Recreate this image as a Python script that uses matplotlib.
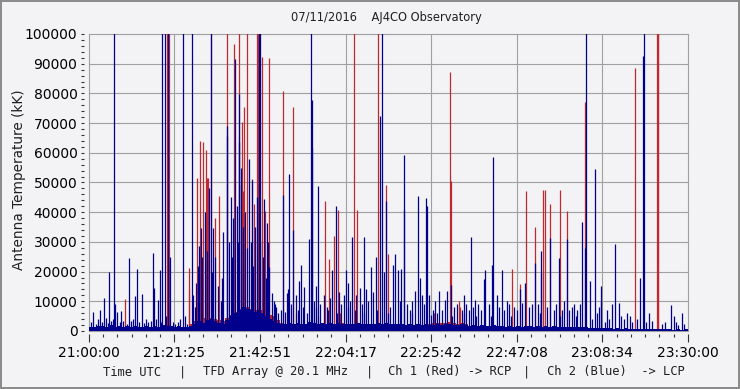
import numpy as np
import matplotlib
matplotlib.use('Agg')
import matplotlib.pyplot as plt
from matplotlib.ticker import MultipleLocator, FixedLocator

# ---------------- data (minutes after 21:00:00 UTC, antenna temperature) ----------------
tick_labels = ["21:00:00", "21:21:25", "21:42:51", "22:04:17",
               "22:25:42", "22:47:08", "23:08:34", "23:30:00"]

FULL = 130000  # spikes that run off the top of the chart

red_t = [9.2, 19.5, 19.8, 20.1, 25.0, 25.2, 27.2, 27.9, 28.6, 29.4, 29.6, 29.9,
         30.5, 31.7, 32.7, 34.7, 36.4, 37.5, 38.2, 38.3, 38.5, 38.9, 39.7, 40.9,
         41.4, 42.0, 42.3, 43.4, 44.1, 45.2, 48.7, 51.2, 52.0, 57.5, 59.2, 60.2,
         61.4, 62.4, 63.0, 66.4, 67.2, 72.5, 74.4, 75.0, 86.5, 90.4, 90.6, 92.8,
         93.0, 105.9, 107.9, 109.5, 111.7, 113.7, 114.2, 115.4, 117.9, 119.6,
         124.2, 136.7, 142.2, 142.4, 142.6]
red_v = [10700, FULL, FULL, FULL, 14000, 21200, 51600, 63900, 63600, 60800, 51600, 51600,
         FULL, 38000, 45400, FULL, 96600, FULL, 49000, 70500, 47000, 75500, FULL, 51300,
         42600, FULL, FULL, 92300, 40300, 91800, 80800, 75400, 6000, 5000, 43700, 24400,
         32100, 40900, 6000, FULL, 40900, FULL, 49100, 26000, 6000, 87200, 50400, 10000,
         8200, 20800, 15700, 47300, 34900, 47600, 47600, 42600, 47600, 40300,
         77100, 88400, FULL, FULL, FULL]

blue_t = [6.4, 18.4, 19.1, 19.8, 23.5, 25.9, 30.5, 42.5, 42.8, 55.7, 73.4, 124.4, 138.9,
          1.2, 2.9, 3.9, 5.2, 6.7, 7.2, 8.2, 10.2, 11.7, 12.0, 13.3, 16.2, 16.3, 17.4,
          17.8, 20.4, 24.1, 26.8, 27.7, 28.1, 29.1, 30.2, 31.2, 33.7, 34.5, 34.6, 36.6,
          37.7, 37.6, 40.1, 40.9, 44.0, 44.6, 45.2, 45.8, 48.7, 49.7, 50.1, 51.2, 50.0,
          52.7, 53.1, 54.0, 55.2, 55.8, 55.9, 57.4, 61.0, 61.8, 64.3, 66.0, 67.9, 68.9,
          70.6, 71.8, 72.9, 74.3, 76.2, 76.7, 77.4, 78.2, 78.9, 79.0, 81.7, 82.4, 82.9,
          84.5, 84.7, 85.2, 87.7, 89.7, 90.7, 93.9, 95.7, 96.8, 98.9, 99.3, 101.0, 101.2,
          102.2, 103.4, 104.7, 107.9, 109.1, 111.7, 113.1, 113.3, 115.4, 117.7, 119.6,
          123.5, 124.2, 125.4, 126.6, 128.1, 128.3, 130.9, 131.7, 132.7, 137.9, 138.8,
          140.2, 141.0, 145.7, 146.4, 148.6,
          # denser texture spikes
          26.0, 26.5, 27.4, 28.4, 29.7, 30.8, 31.5, 32.3, 33.0, 33.4, 35.2, 35.6, 35.9,
          36.2, 37.0, 37.3, 38.0, 38.6, 39.0, 39.5, 40.5, 41.2, 41.7, 42.1, 43.0, 43.6,
          44.3, 45.0, 46.3, 47.0, 46.7, 47.5, 48.2, 49.2,
          50.6, 51.8, 53.6, 56.3, 57.0, 58.0, 58.8, 59.6, 60.5, 62.7, 63.2, 63.8, 65.0,
          65.5, 67.0, 68.3, 69.5, 70.0, 71.2, 73.9, 52.3, 54.6, 56.8, 60.0, 62.2, 64.8,
          66.6, 69.0, 72.2, 74.8,
          75.5, 77.9, 79.6, 80.3, 81.0, 83.3, 83.8, 86.2, 86.8, 88.4, 89.2, 91.5, 92.3,
          93.4, 94.5, 95.1, 96.2, 97.5, 98.3, 80.8, 85.7, 87.2, 91.0, 94.0, 97.0,
          100.2, 102.8, 103.9, 105.2, 106.4, 107.3, 108.4, 110.3, 110.9, 112.4, 114.8,
          116.4, 116.9, 118.5, 119.0, 120.3, 120.9, 121.5, 122.3, 123.0, 100.7, 105.7,
          112.9, 118.0, 121.9,
          126.0, 127.3, 127.6, 129.2, 129.8, 130.3, 133.3, 134.0, 134.8, 135.5, 136.0,
          137.3, 139.5, 143.5, 144.2, 147.0, 147.5, 149.0,
          0.6, 1.8, 2.3, 3.3, 4.4, 4.8, 5.7, 6.1, 7.8, 8.7, 9.6, 10.6, 11.2, 12.5, 13.8,
          14.4, 14.9, 15.5, 16.8, 18.0, 19.4, 21.0, 21.6, 22.3, 22.9, 24.6]
blue_v = [FULL, FULL, FULL, FULL, FULL, FULL, FULL, FULL, FULL, FULL, FULL, FULL, FULL,
          6500, 7100, 11250, 20000, 9000, 6500, 6800, 24700, 11800, 20900, 12300, 26400, 14500, 10300,
          20400, 24900, 5000, 16100, 28500, 34700, 40000, 48000, 34700, 33200, 65600, 69000, 91500,
          79700, 63500, 58000, 51000, 44300, 36400, 21700, 12700, 45900, 12700, 52800, 34100, 14000,
          16700, 22300, 14900, 31000, 77800, 61600, 48700, 20600, 42000, 20600, 31600, 14400, 31600,
          21500, 25000, 72400, 43700, 22300, 26000, 20400, 20800, 59100, 40900, 13300, 45600, 17800,
          44800, 42000, 12000, 13500, 13500, 15400, 12100, 31600, 10600, 17500, 20400, 22300, 58600,
          12000, 20600, 10000, 14000, 16000, 23000, 26800, 19600, 31300, 24600, 31000,
          36600, 28000, 17000, 54400, 10000, 15000, 9000, 29400, 9500, 17800, 92700,
          6000, 3500, 8800, 5000, 6000,
          12000, 8000, 22000, 25000, 27000, 20000, 25000, 15000, 10000, 18000, 30000, 45000, 25000,
          38000, 42000, 30000, 55000, 35000, 40000, 28000, 30000, 22000, 35000, 45000, 30000, 25000,
          18000, 30000, 10000, 8000, 9000, 6000, 7000, 6500,
          9000, 12000, 8000, 10000, 15000, 9000, 12000, 8000, 11000, 13000, 9000, 12000, 16000,
          10000, 12000, 9000, 14000, 10000, 13000, 20000, 7000, 6000, 8000, 7000, 6000, 8000,
          7000, 6000, 7000, 6000,
          8000, 10000, 9000, 7000, 10000, 12000, 9000, 7000, 10000, 7000, 10500, 8000, 9000,
          7000, 9000, 7000, 8000, 9000, 7000, 6000, 5500, 6000, 5000, 6000, 5000,
          9000, 8000, 7000, 9000, 8000, 7000, 9500, 8000, 9000, 9000, 8000,
          7000, 9000, 7000, 10000, 7000, 8000, 9000, 7000, 9000, 5000, 5000,
          6000, 5000, 5000,
          4000, 6000, 8000, 3000, 7000, 4000, 5000, 4000, 6000, 5000, 3000,
          4000, 3000, 2500, 3000, 3000, 2000, 2500,
          3000, 2500, 4000, 3000, 4500, 2800, 3500, 4000, 3000, 3200, 2500, 3500, 4000, 3000, 2800,
          4200, 3000, 3500, 4000, 3000, 5000, 3000, 2500, 3000, 4000, 2500]

# noise floor, one value per minute
blue_floor = [1500, 1300, 1800, 1600, 1300, 1900, 1500, 1700, 1400, 1600,
              1500, 1700, 1300, 1500, 1800, 1500, 1700, 1400, 1900, 1600,
              1700, 1500, 1600, 1400, 1300, 1800, 2500, 3200, 2800, 3600,
              4000, 3200, 2800, 2500, 3600, 5000, 6000, 7000, 8000, 7500,
              7000, 6500, 7000, 6000, 5000, 4200, 3500, 2800, 2500, 2500,
              2800, 2500, 2700, 2300, 2500, 3000, 2800, 2500, 2700, 2300,
              2600, 2400, 2700, 2400, 2200, 2500, 2300, 2700, 2400, 2200,
              2400, 2300, 2600, 2500, 2800, 2500, 2300, 2200, 2400, 2000,
              2200, 2000, 2300, 2000, 2200, 1900, 2100, 2200, 2000, 2200,
              2300, 2000, 1900, 2200, 2000, 1800, 2000, 1700, 1900, 1800,
              1700, 1900, 1600, 1800, 1500, 1700, 1500, 1700, 1500, 1700,
              1600, 1500, 1700, 1500, 1700, 1500, 1600, 1400, 1500, 1300,
              1400, 1200, 1400, 1300, 1200, 1100, 1000, 1000, 900, 1000,
              900, 800, 1000, 800, 900, 800, 800, 700, 800, 800,
              700, 800, 600, 700, 600, 700, 500, 600, 500, 600]
red_floor = [900, 800, 1100, 1000, 800, 1100, 900, 1000, 800, 1000,
             900, 1000, 800, 900, 1100, 900, 1000, 800, 1100, 1000,
             1000, 900, 1000, 800, 800, 2200, 3500, 4200, 4500, 5000,
             4500, 4200, 3800, 3500, 4500, 5500, 6500, 7500, 8500, 8000,
             7500, 7000, 7500, 7000, 6500, 5500, 5000, 3800, 2600, 2200,
             2200, 2000, 2200, 1900, 2200, 2600, 2600, 2200, 2400, 2100,
             2400, 2200, 3300, 2600, 2000, 2400, 2200, 2600, 2200, 1900,
             2200, 2000, 2200, 2200, 2600, 2200, 2000, 1900, 2200, 1800,
             2000, 1800, 2000, 1800, 2000, 2200, 2700, 2800, 2700, 2800,
             3000, 2700, 2500, 2700, 2200, 1600, 1800, 1500, 1700, 1600,
             1500, 1700, 1400, 1600, 1300, 1500, 1400, 1500, 1300, 1500,
             1400, 1300, 1500, 1300, 1500, 1300, 1400, 1200, 1300, 1100,
             1200, 1000, 1100, 1000, 1000, 900, 700, 800, 600, 700,
             600, 500, 700, 500, 600, 500, 500, 400, 500, 500,
             400, 500, 400, 400, 400, 400, 300, 400, 300, 400]

# ---------------- figure ----------------
W, H = 740, 389
BG = '#F3F3F5'
RED = '#C0282F'
BLUE = '#00008C'
GRID = '#A0A0A0'

fig = plt.figure(figsize=(W / 100, H / 100), dpi=100, facecolor=BG,
                 edgecolor='#8C8C8C', linewidth=1.5)
ax = fig.add_axes([88.7 / W, 1 - 331 / H, (688 - 88.7) / W, (331 - 34) / H])
ax.set_facecolor(BG)

edges = np.arange(len(blue_floor) + 1)
ax.stairs(red_floor, edges, fill=True, color=RED, lw=0, zorder=2)
ax.vlines(red_t, 0, red_v, colors=RED, lw=0.9, zorder=3)
ax.stairs(blue_floor, edges, fill=True, color=BLUE, lw=0, zorder=4)
ax.vlines(blue_t, 0, blue_v, colors=BLUE, lw=0.9, zorder=5)

ax.set_xlim(0, 150)
ax.set_ylim(0, 100000)

major_x = np.linspace(0, 150, 8)
ax.xaxis.set_major_locator(FixedLocator(major_x))
ax.xaxis.set_minor_locator(FixedLocator(np.linspace(0, 150, 43)))
ax.set_xticklabels(tick_labels, family='DejaVu Sans Mono', fontsize=8.7, color='#202020')
ax.yaxis.set_major_locator(MultipleLocator(10000))
ax.yaxis.set_minor_locator(MultipleLocator(2000))
ax.yaxis.set_major_formatter(matplotlib.ticker.FuncFormatter(lambda v, p: f"{int(v)}"))
for lab in ax.get_yticklabels():
    lab.set_fontsize(8.5)
    lab.set_color('#202020')

for s in ax.spines.values():
    s.set_visible(False)
ax.spines['bottom'].set_position(('outward', 2.2))
ax.spines['left'].set_position(('outward', 3.2))

ax.tick_params(axis='x', which='major', length=5.8, width=0.8, color='#333333', pad=3)
ax.tick_params(axis='x', which='minor', length=2.2, width=0.8, color='#333333')
ax.tick_params(axis='y', which='both', length=2.4, width=0.8, color='#333333', pad=2.5)

ax.set_axisbelow(True)
ax.grid(True, which='major', color=GRID, lw=0.8)
for gl in ax.get_xgridlines() + ax.get_ygridlines():
    gl.set_clip_on(False)

def ftext(x, y, s, **kw):
    fig.text(x / W, 1 - y / H, s, **kw)

ftext(386, 18, "07/11/2016    AJ4CO Observatory", ha='center', va='center',
      fontsize=8.3, color='#202020')
ftext(19, 180, "Antenna Temperature (kK)", ha='center', va='center', rotation=90,
      fontsize=9.8, color='#202020')

mono = dict(family='DejaVu Sans Mono', fontsize=8.7, color='#202020', va='center')
ftext(103, 372, "Time UTC", ha='left', **mono)
ftext(183, 372, "|", ha='center', **mono)
ftext(203, 372, "TFD Array @ 20.1 MHz", ha='left', **mono)
ftext(369.5, 372, "|", ha='center', **mono)
ftext(388, 372, "Ch 1 (Red) -> RCP", ha='left', **mono)
ftext(527, 372, "|", ha='center', **mono)
ftext(547, 372, "Ch 2 (Blue)  -> LCP", ha='left', **mono)

fig.savefig('out.png', dpi=100, facecolor=BG, edgecolor='#8C8C8C')
